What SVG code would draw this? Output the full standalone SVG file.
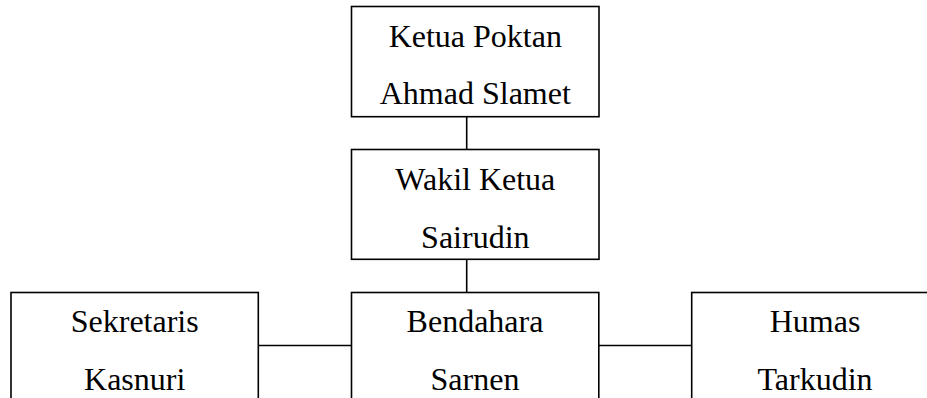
<svg xmlns="http://www.w3.org/2000/svg" width="927" height="398" viewBox="0 0 927 398">
<style>
.box{fill:#fff;stroke:#000;stroke-width:1.6}
.ln{stroke:#000;stroke-width:1.6;fill:none}
text{font-family:"Liberation Serif","Times New Roman",serif;font-size:32px;fill:#000;text-anchor:middle}
</style>
<rect width="927" height="398" fill="#fff"/>
<g id="connectors">
<line class="ln" x1="466.7" y1="116.7" x2="466.7" y2="149.5"/>
<line class="ln" x1="466.7" y1="259.3" x2="466.7" y2="292.5"/>
<line class="ln" x1="258.3" y1="345.5" x2="351.5" y2="345.5"/>
<line class="ln" x1="598.8" y1="345.5" x2="691.7" y2="345.5"/>
</g>
<g id="ketua">
<rect class="box" x="351.5" y="6.5" width="247.5" height="110.2"/>
<text x="475.3" y="46.7">Ketua Poktan</text>
<text x="475.3" y="104">Ahmad Slamet</text>
</g>
<g id="wakil">
<rect class="box" x="351.5" y="149.5" width="247.5" height="109.8"/>
<text x="475.3" y="190">Wakil Ketua</text>
<text x="475.3" y="248.3">Sairudin</text>
</g>
<g id="sekretaris">
<rect class="box" x="11" y="292.5" width="247.3" height="120"/>
<text x="134.7" y="331.7">Sekretaris</text>
<text x="134.7" y="390">Kasnuri</text>
</g>
<g id="bendahara">
<rect class="box" x="351.5" y="292.5" width="247.3" height="120"/>
<text x="475" y="331.7">Bendahara</text>
<text x="475" y="390">Sarnen</text>
</g>
<g id="humas">
<rect class="box" x="691.7" y="292.5" width="247.3" height="120"/>
<text x="815" y="331.7">Humas</text>
<text x="815" y="390">Tarkudin</text>
</g>
</svg>
